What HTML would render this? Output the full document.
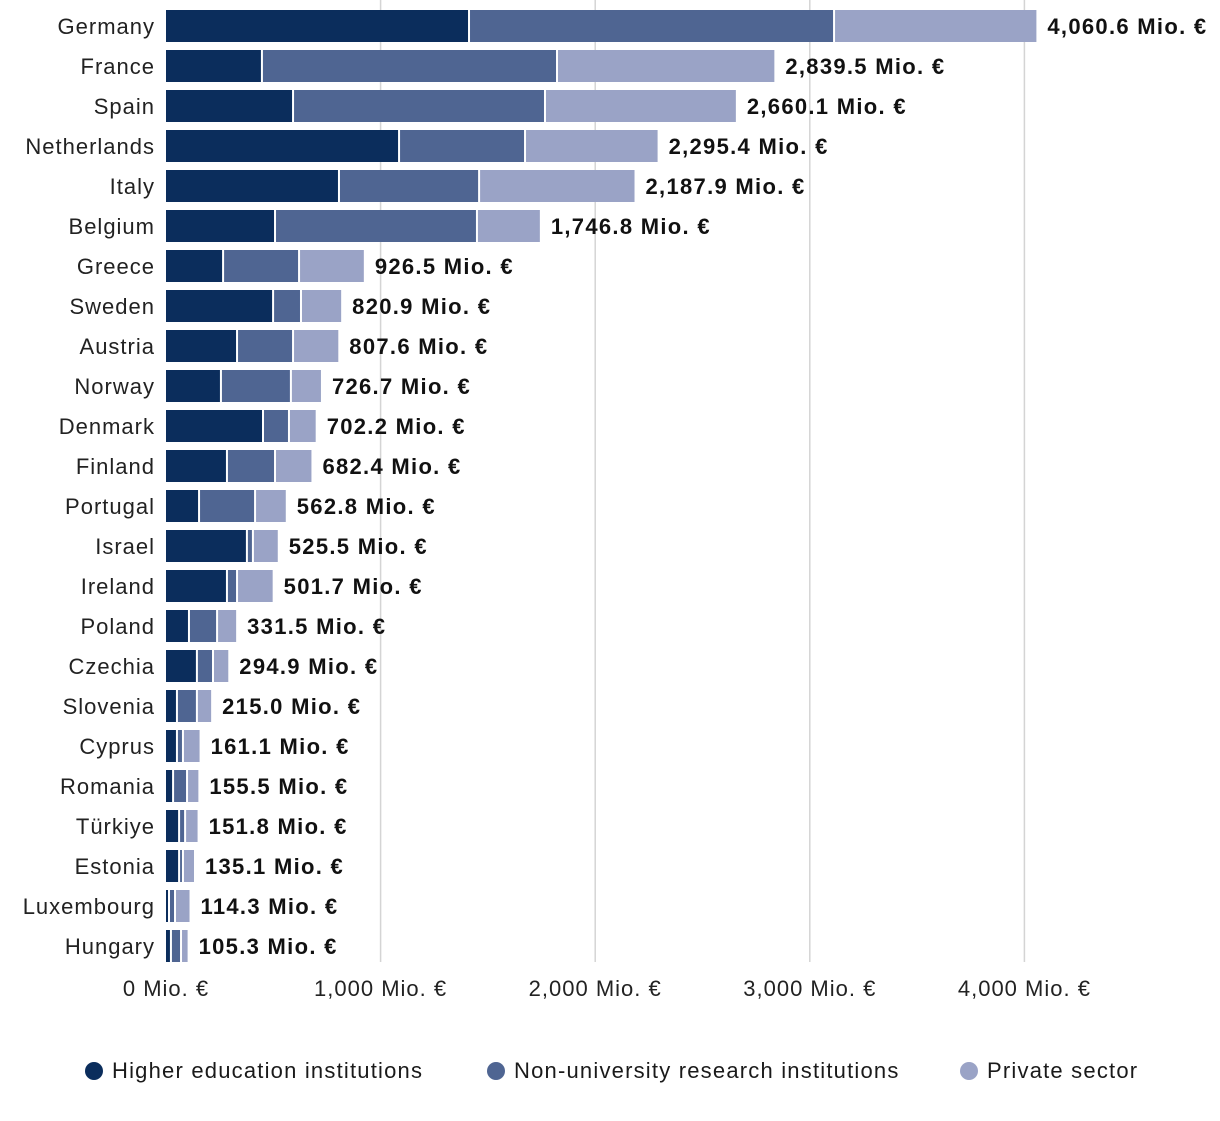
<!DOCTYPE html>
<html><head><meta charset="utf-8"><style>
body{margin:0;background:#fff;font-family:"Liberation Sans",sans-serif;}
svg text{font-family:"Liberation Sans",sans-serif;}
</style></head><body>
<svg id="chart" width="1220" height="1116" xmlns="http://www.w3.org/2000/svg">
<g id="grid"></g>
<g id="bars"></g>
<g id="labels"></g>
<g id="legend"></g>
</svg>
<script>
const countries=["Germany","France","Spain","Netherlands","Italy","Belgium","Greece","Sweden","Austria","Norway","Denmark","Finland","Portugal","Israel","Ireland","Poland","Czechia","Slovenia","Cyprus","Romania","Türkiye","Estonia","Luxembourg","Hungary"];
const higherEd=[1412,447,592,1086,806,508,266,499,331,256,452,284,154,377,284,107,144,51,51,33,61,61,14,23];
const nonUniv=[1701,1375,1174,587,653,941,354,130,261,326,121,224,261,28,47,131,75,93,28,65,28,18,28,47];
const privateSec=[947.6,1017.5,894.1,622.4,728.9,297.8,306.5,191.9,215.6,144.7,129.2,174.4,147.8,120.5,170.7,93.5,75.9,71,82.1,57.5,62.8,56.1,72.3,35.3];
const totals=["4,060.6","2,839.5","2,660.1","2,295.4","2,187.9","1,746.8","926.5","820.9","807.6","726.7","702.2","682.4","562.8","525.5","501.7","331.5","294.9","215.0","161.1","155.5","151.8","135.1","114.3","105.3"];
const ticks=[0,1000,2000,3000,4000];
const tickLabels=["0 Mio. €","1,000 Mio. €","2,000 Mio. €","3,000 Mio. €","4,000 Mio. €"];
const seriesNames=["Higher education institutions","Non-university research institutions","Private sector"];
const colors=["#0b2d5c","#4f6592","#9aa3c6"];
const NS="http://www.w3.org/2000/svg";
const x=v=>166+v*0.2146;
const y=i=>10+i*40;
function mk(t,a,p){const e=document.createElementNS(NS,t);for(const k in a)e.setAttribute(k,a[k]);p.appendChild(e);return e;}
const grid=document.getElementById('grid'),bars=document.getElementById('bars'),labels=document.getElementById('labels'),legend=document.getElementById('legend');
ticks.forEach((t,i)=>{
  if(i>0){const l=mk('line',{x1:x(t),x2:x(t),y1:0,y2:962,stroke:'#d4d4d4','stroke-width':1.5},grid);
  
  }
  const tx=mk('text',{x:x(t),y:996,'text-anchor':'middle','font-size':22,'letter-spacing':1,fill:'#222'},labels);
  tx.textContent=tickLabels[i];
  
  
});
const series=[higherEd,nonUniv,privateSec];
countries.forEach((c,i)=>{
  let acc=0;
  series.forEach((s,k)=>{
    const x0=x(acc),x1=x(acc+s[i]);
    const r=mk('rect',{x:x0+(k?1:0),y:y(i),width:Math.max(0,x1-x0-(k?1:0)-1),height:32,fill:colors[k]},bars);
    
    
    acc+=s[i];
  });
  const cl=mk('text',{x:155,y:y(i)+24,'text-anchor':'end','font-size':22,'letter-spacing':1,fill:'#222'},labels);
  cl.textContent=c;
  
  
  const vl=mk('text',{x:x(acc)+10,y:y(i)+24,'font-size':22,'letter-spacing':1.3,'font-weight':'bold',fill:'#111'},labels);
  vl.textContent=totals[i]+" Mio. €";
  
  
});
const lx=[94,496,969];
seriesNames.forEach((n,k)=>{
  const g=mk('g',{},legend);
  
  
  mk('circle',{cx:lx[k],cy:1071,r:9,fill:colors[k]},g);
  const t=mk('text',{x:lx[k]+18,y:1078,'font-size':22,'letter-spacing':1.2,fill:'#1a1a1a'},g);
  t.textContent=n;
});
</script>
</body></html>
